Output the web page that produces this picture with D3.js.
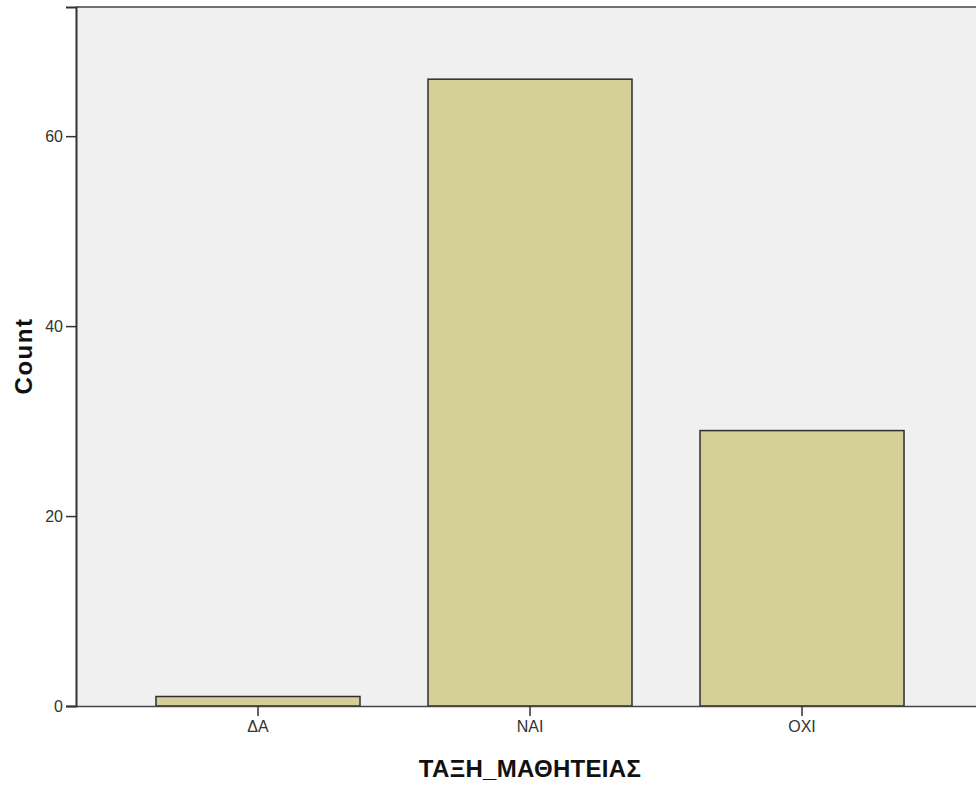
<!DOCTYPE html>
<html>
<head>
<meta charset="utf-8">
<script src="https://cdn.jsdelivr.net/npm/d3@7"></script>
<style>
  html, body { margin: 0; padding: 0; background: #ffffff; }
  svg { display: block; }
</style>
</head>
<body>
<svg id="chart" width="976" height="786"></svg>
<script>
// Data
const categories = ["ΔΑ", "ΝΑΙ", "ΟΧΙ"];
const counts = [1, 66, 29];
const yTicks = [0, 20, 40, 60];
const xTitle = "ΤΑΞΗ_ΜΑΘΗΤΕΙΑΣ";
const yTitle = "Count";

const W = 976, H = 786;
const margin = { left: 76, top: 7, right: 0, bottom: 80 };
const plotW = W - margin.left - margin.right;
const plotH = 706 - margin.top;

const svg = d3.select("#chart");
const g = svg.append("g").attr("transform", `translate(${margin.left},${margin.top})`);

const x = d3.scaleBand().domain(categories).range([0, 908]).paddingInner(0.25).paddingOuter(0.294);
const y = d3.scaleLinear().domain([0, 73.6]).range([plotH, 0]);

// background
g.append("rect").attr("x", 0).attr("y", 0).attr("width", plotW).attr("height", plotH).attr("fill", "#f0f0f0");

// bars
g.selectAll("rect.bar").data(counts).enter().append("rect")
  .attr("class", "bar")
  .attr("x", (d, i) => x(categories[i]))
  .attr("y", d => y(d))
  .attr("width", x.bandwidth())
  .attr("height", d => plotH - y(d))
  .attr("fill", "#d3cf97")
  .attr("stroke", "#2e2e2e")
  .attr("stroke-width", 1.5);

// top border
g.append("line").attr("x1", 0).attr("x2", plotW).attr("y1", 0).attr("y2", 0)
  .attr("stroke", "#444").attr("stroke-width", 1.5);

const tickFont = "Liberation Sans, Arial, sans-serif";

// y axis
const yAxis = g.append("g").call(d3.axisLeft(y).tickValues(yTicks).tickSize(10).tickPadding(3).tickFormat(d3.format("d")));
yAxis.select(".domain").attr("stroke", "#333").attr("stroke-width", 2);
yAxis.selectAll(".tick line").attr("stroke", "#333").attr("stroke-width", 1.5);
yAxis.selectAll(".tick text").attr("font-family", tickFont).attr("font-size", 16).attr("fill", "#333");

// x axis
const xAxis = g.append("g").attr("transform", `translate(0,${plotH})`)
  .call(d3.axisBottom(x).tickSize(10).tickPadding(5).tickSizeOuter(0));
xAxis.select(".domain").attr("stroke", "#444").attr("stroke-width", 1.5);
xAxis.selectAll(".tick line").attr("stroke", "#333").attr("stroke-width", 1.5);
xAxis.selectAll(".tick text").attr("font-family", tickFont).attr("font-size", 16).attr("fill", "#333");

// titles
svg.append("text")
  .attr("x", 530).attr("y", 777)
  .attr("text-anchor", "middle")
  .attr("font-family", tickFont)
  .attr("font-weight", "bold").attr("font-size", 24).attr("letter-spacing", 0.3).attr("fill", "#111")
  .text(xTitle);

svg.append("text")
  .attr("transform", "translate(32,356) rotate(-90)")
  .attr("text-anchor", "middle")
  .attr("font-family", tickFont)
  .attr("font-weight", "bold").attr("font-size", 24).attr("letter-spacing", 1.5).attr("fill", "#111")
  .text(yTitle);
</script>
</body>
</html>
